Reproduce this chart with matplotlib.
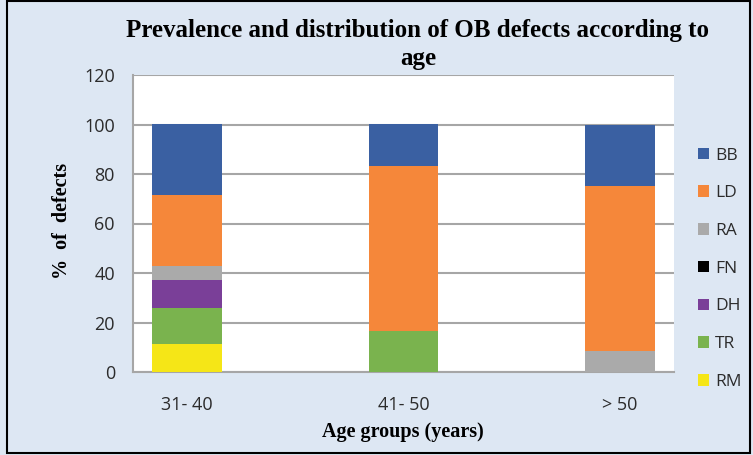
import numpy as np
import matplotlib.pyplot as plt
from matplotlib.patches import Rectangle

age_groups = ["31- 40", "41- 50", "> 50"]
defects = ["RM", "TR", "DH", "FN", "RA", "LD", "BB"]
RM = [11.4, 0.0, 0.0]
TR = [14.3, 16.7, 0.0]
DH = [11.4, 0.0, 0.0]
FN = [0.0, 0.0, 0.0]
RA = [5.7, 0.0, 8.3]
LD = [28.6, 66.6, 66.7]
BB = [28.6, 16.7, 25.0]

colors = {"RM": "#f5e617", "TR": "#7ab34e", "DH": "#7a3f98", "FN": "#000000",
          "RA": "#aaaaaa", "LD": "#f5873a", "BB": "#3a60a2"}
series = {"RM": RM, "TR": TR, "DH": DH, "FN": FN, "RA": RA, "LD": LD, "BB": BB}

bg = "#dde7f3"
tick_font = "Open Sans"
serif = "Liberation Serif"

fig = plt.figure(figsize=(7.53, 4.55), dpi=100, facecolor=bg)
ax = fig.add_axes([133/753, 1 - 372/455, 541/753, 297/455])
ax.set_facecolor("white")

x = np.arange(len(age_groups))
bottom = np.zeros(len(age_groups))
handles = {}
for name in defects:
    vals = np.array(series[name])
    handles[name] = ax.bar(x, vals, width=0.32, bottom=bottom, color=colors[name], label=name, zorder=3)
    bottom += vals

ax.set_xlim(-0.25, 2.25)
ax.set_ylim(0, 120)
ax.set_yticks(range(0, 121, 20))
ax.set_xticks(x)
ax.set_xticklabels(age_groups)
ax.yaxis.grid(True, color="#a6a6a6", linewidth=1.5, zorder=0)
ax.tick_params(length=0, labelsize=13, labelcolor="#2b2b2b")
ax.tick_params(axis="y", pad=13)
ax.tick_params(axis="x", pad=17)
for lbl in ax.get_xticklabels() + ax.get_yticklabels():
    lbl.set_fontfamily(tick_font)
for s in ["top", "right"]:
    ax.spines[s].set_visible(False)
for s in ["left", "bottom"]:
    ax.spines[s].set_color("#a6a6a6")
    ax.spines[s].set_linewidth(1.5)

fig.text(418/753, 1 - 30/455, "Prevalence and distribution of OB defects according to",
         ha="center", va="center", fontsize=18, fontweight="bold", family=serif)
fig.text(418/753, 1 - 59/455, "age", ha="center", va="center", fontsize=18,
         fontweight="bold", family=serif)
fig.text(62/753, 1 - 221/455, "%  of  defects", rotation=90, ha="center", va="center",
         fontsize=14.5, fontweight="bold", family=serif)
fig.text(403/753, 1 - 432/455, "Age groups (years)", ha="center", va="center",
         fontsize=14.5, fontweight="bold", family=serif)

order = ["BB", "LD", "RA", "FN", "DH", "TR", "RM"]
leg = fig.legend([handles[k] for k in order], order, loc="upper left",
                 bbox_to_anchor=(682/753, 1 - 132/455), frameon=False,
                 prop={"family": tick_font, "size": 12.5}, handlelength=0.65,
                 handleheight=0.65, handletextpad=0.35, labelspacing=1.25)
for t in leg.get_texts():
    t.set_color("#2b2b2b")

fig.patches.append(Rectangle((7/753, 1 - 453/455), 743/753, 452/455, transform=fig.transFigure,
                             fill=False, edgecolor="black", linewidth=1.5))

fig.savefig("out.png", dpi=100, facecolor=bg)
